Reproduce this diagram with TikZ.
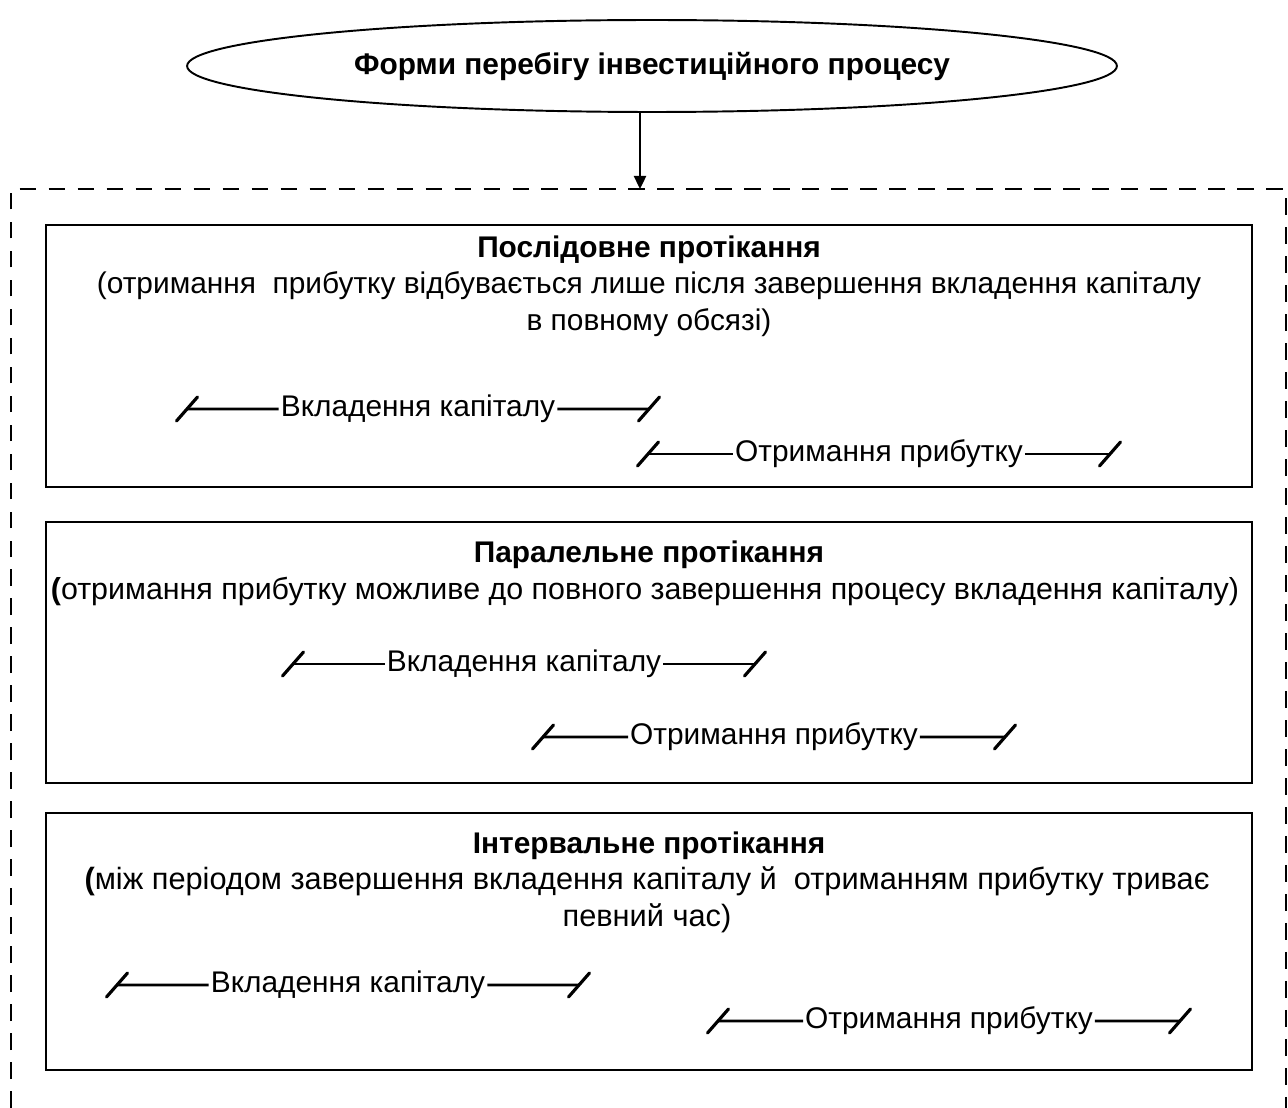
\documentclass[tikz,border=0pt]{standalone}
\usepackage{fontspec}
\setmainfont{Liberation Sans}
\usepackage{tikz}
\usetikzlibrary{positioning,shapes.geometric,arrows.meta,calc}

\begin{document}
\begin{tikzpicture}[x=0.02cm, y=-0.02cm,
    every node/.style={font=\fontsize{17}{20.5}\selectfont},
    lead/.style={ellipse, draw, line width=1.1pt, minimum width=18.6cm, minimum height=1.84cm, font=\fontsize{17}{20.5}\selectfont\bfseries},
    formbox/.style={draw, line width=1.5pt},
    outerbox/.style={line width=1.5pt, dash pattern=on 9.5pt off 7pt},
    headline/.style={anchor=base, font=\fontsize{17}{20.5}\selectfont\bfseries},
    note/.style={anchor=base, align=center, inner sep=0pt},
    spanlabel/.style={inner sep=1pt},
    spanline/.style={line width=1.5pt},
    tickmark/.style={line width=1.8pt, line cap=round}]
    \useasboundingbox (0,0) rectangle (1288,1108);

    \node[lead] (forms) at (652,66) {Форми перебігу інвестиційного процесу};
    \coordinate (entry) at (640,189);
    \draw[outerbox] (11,1108) -- (11,189) -- (1286,189) -- (1286,1108);
    \draw[line width=1.1pt, -{Triangle[length=7.5pt, width=7pt]}] (forms.south -| entry) -- (entry);

    % three kinds of flow
    \draw[formbox] (46,225) rectangle (1252,487);
    \draw[formbox] (46,522) rectangle (1252,783);
    \draw[formbox] (46,813) rectangle (1252,1070);

    \node[headline] (seq) at (649,257) {Послідовне протікання};
    \node[note] (seqnote) at (649,330) {(отримання\ \ прибутку відбувається лише після завершення вкладення капіталу\\в повному обсязі)};
    \node[headline] (par) at (649,562) {Паралельне протікання};
    \node[note, font=\fontsize{17.3}{20.5}\selectfont] (parnote) at (645,599) {\textbf{(}отримання прибутку можливе до повного завершення процесу вкладення капіталу)};
    \node[headline] (gap) at (649,853) {Інтервальне протікання};
    \node[note, font=\fontsize{17.5}{20.5}\selectfont] (gapnote) at (647,926) {\textbf{(}між періодом завершення вкладення капіталу й\ \ отриманням прибутку триває\\певний час)};

    % time spans
    \foreach \n/\xa/\xb/\y/\txt in {
        seqin/187/649/409/{Вкладення капіталу},
        seqout/648/1110/454/{Отримання прибутку},
        parin/293/755/664/{Вкладення капіталу},
        parout/543/1005/737/{Отримання прибутку},
        gapin/117/579/985/{Вкладення капіталу},
        gapout/718/1180/1021/{Отримання прибутку}}
    {
        \coordinate (\n-a) at (\xa,\y);
        \coordinate (\n-b) at (\xb,\y);
        \node[spanlabel] (\n) at ($(\n-a)!0.5!(\n-b)$) {\txt};
        \draw[spanline] (\n-a) -- (\n.west) (\n.east) -- (\n-b);
        \draw[tickmark] ($(\n-a)+(-10.5,12)$) -- ++(21,-24);
        \draw[tickmark] ($(\n-b)+(-10.5,12)$) -- ++(21,-24);
    }
\end{tikzpicture}
\end{document}
